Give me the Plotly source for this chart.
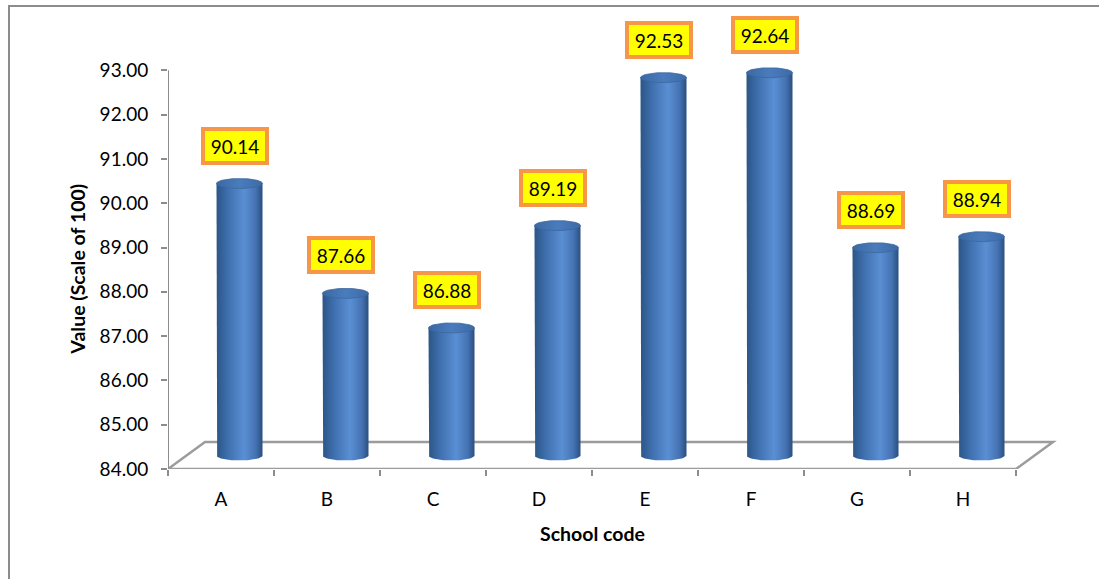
import numpy as np
import plotly.graph_objects as go

# School scores
schools = ["A", "B", "C", "D", "E", "F", "G", "H"]
scores = [90.14, 87.66, 86.88, 89.19, 92.53, 92.64, 88.69, 88.94]
y_ticks = [84, 85, 86, 87, 88, 89, 90, 91, 92, 93]
y_base = 84

W, H = 1099, 579
ML, MR, MT, MB = 168, 39, 26, 110
PX_PER_CAT = 106.0
PX_PER_UNIT = 44.3
plot_w = W - ML - MR
plot_h = H - MT - MB
x_range = [-0.5, -0.5 + plot_w / PX_PER_CAT]
y_range = [y_base, y_base + plot_h / PX_PER_UNIT]

# 3D depth offset (data units)
DX = 37 / PX_PER_CAT
DY = 27 / PX_PER_UNIT
RX = 23 / PX_PER_CAT      # cylinder radius, horizontal
RY = 5 / PX_PER_UNIT      # ellipse half-height

FONT = "Lato, 'Open Sans', sans-serif"
body_scale = [[0.0, "#2b5587"], [0.25, "#3f6fae"], [0.6, "#5a8fd4"],
              [0.85, "#4573b3"], [1.0, "#2a4f7f"]]
cap_scale = [[0.0, "#3a68a3"], [0.5, "#4a7cbd"], [1.0, "#3d6aa6"]]

fig = go.Figure()
t = np.linspace(0, np.pi, 40)
tt = np.linspace(0, 2 * np.pi, 80)
for i, v in enumerate(scores):
    cx = i + DX / 2
    yb = y_base + DY / 2
    yt = v + DY / 2
    # body: left side, lower front arc of the base, right side
    bx = [cx - RX] + list(cx - RX * np.cos(t)) + [cx + RX, cx - RX]
    by = [yt] + list(yb - RY * np.sin(t)) + [yt, yt]
    fig.add_trace(go.Scatter(
        x=bx, y=by, mode="lines", fill="toself", line=dict(width=0),
        fillgradient=dict(type="horizontal", colorscale=body_scale),
        hoverinfo="skip", showlegend=False))
    # top cap
    fig.add_trace(go.Scatter(
        x=cx + RX * np.cos(tt), y=yt + RY * np.sin(tt), mode="lines",
        fill="toself", line=dict(width=0.8, color="#3b679e"),
        fillgradient=dict(type="horizontal", colorscale=cap_scale),
        hoverinfo="skip", showlegend=False))
    fig.add_annotation(
        x=cx - 0.04, y=yt, yshift=38, text=f"{v:.2f}", showarrow=False,
        font=dict(family=FONT, size=19, color="black"),
        bgcolor="#FFFF00", bordercolor="#F79646", borderwidth=4,
        borderpad=4, width=52, height=22)

n = len(schools)
floor = (f"M -0.5,{y_base} L {n - 0.5},{y_base} "
         f"L {n - 0.5 + DX},{y_base + DY} L {-0.5 + DX},{y_base + DY} Z")
fig.add_shape(type="path", path=floor, xref="x", yref="y", layer="below",
              line=dict(color="#9c9c9c", width=2.5), fillcolor="white")
# value axis line
fig.add_shape(type="line", xref="x", yref="y", x0=-0.5, x1=-0.5,
              y0=y_ticks[0], y1=y_ticks[-1],
              line=dict(color="#8c8c8c", width=2))


def px_x(p):
    return (p - ML) / plot_w


def px_y(p):
    return (H - MB - p) / plot_h


# chart frame
fig.add_shape(type="rect", xref="paper", yref="paper",
              x0=px_x(9), x1=px_x(1120), y0=px_y(600), y1=px_y(6),
              line=dict(color="#8c8c8c", width=2), layer="below")

# axis titles, centred on the drawn axis extents
fig.add_annotation(x=(n - 1) / 2, xref="x", y=px_y(533), yref="paper",
                   xanchor="center", yanchor="middle",
                   text="<b>School code</b>", showarrow=False,
                   font=dict(family=FONT, size=19.5, color="black"))
fig.add_annotation(x=px_x(78), xref="paper",
                   y=(y_ticks[0] + y_ticks[-1]) / 2, yref="y",
                   xanchor="center", yanchor="middle",
                   text="<b>Value (Scale of 100)</b>", textangle=-90,
                   showarrow=False,
                   font=dict(family=FONT, size=19.5, color="black"))

fig.update_layout(
    width=W, height=H, margin=dict(l=ML, r=MR, t=MT, b=MB),
    plot_bgcolor="white", paper_bgcolor="white",
    font=dict(family=FONT, size=19, color="black"),
    xaxis=dict(range=x_range, tickmode="array", tickvals=list(range(n)),
               ticktext=schools, ticks="", showgrid=False, zeroline=False,
               showline=False, ticklabelstandoff=17,
               minor=dict(tickmode="array",
                          tickvals=[k - 0.5 for k in range(n + 1)],
                          ticks="outside", ticklen=6, tickwidth=1.5,
                          tickcolor="#8c8c8c", showgrid=False)),
    yaxis=dict(range=y_range, tickmode="array", tickvals=y_ticks,
               ticktext=[f"{k:.2f}" for k in y_ticks], ticks="outside",
               ticklen=6, tickwidth=1.5, tickcolor="#8c8c8c",
               showgrid=False, zeroline=False, showline=False,
               ticklabelstandoff=9),
)

fig.write_html("out.html")
